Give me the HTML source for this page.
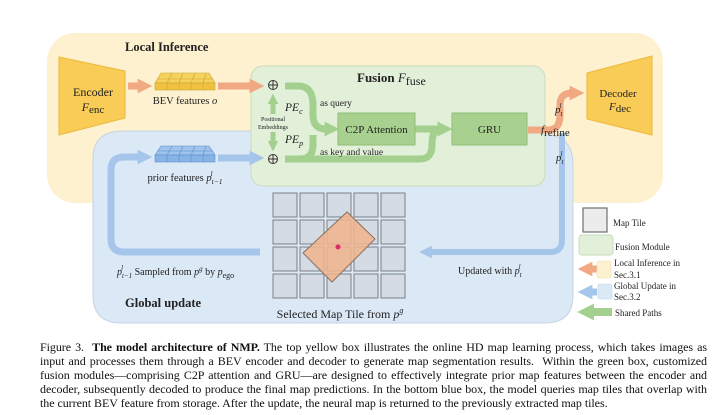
<!DOCTYPE html>
<html><head><meta charset="utf-8">
<style>
body{margin:0;background:#fff;width:720px;height:415px;overflow:hidden;position:relative;font-family:"Liberation Serif",serif;}
svg{position:absolute;left:0;top:0}
svg text{font-family:"Liberation Serif",serif;fill:#222}
.cap{position:absolute;left:40px;top:340px;width:667px;font-size:12px;line-height:14px;color:#111;text-align:justify;letter-spacing:-0.05px;}
</style></head><body>
<svg width="720" height="340" viewBox="0 0 720 340">
<defs>
<marker id="ao" viewBox="0 0 2 2" markerWidth="2.1" markerHeight="2.1" refX="0.6" refY="1" orient="auto" markerUnits="strokeWidth"><path d="M0,0 L2,1 L0,2 Z" fill="#f0a982"/></marker>
<marker id="ab" viewBox="0 0 2 2" markerWidth="2.1" markerHeight="2.1" refX="0.6" refY="1" orient="auto" markerUnits="strokeWidth"><path d="M0,0 L2,1 L0,2 Z" fill="#a5c6ea"/></marker>
<marker id="ag" viewBox="0 0 2 2" markerWidth="2.1" markerHeight="2.1" refX="0.6" refY="1" orient="auto" markerUnits="strokeWidth"><path d="M0,0 L2,1 L0,2 Z" fill="#a3d08f"/></marker>
</defs>
<rect x="47" y="33" width="616" height="170" rx="28" fill="#fdf1cf"/>
<path d="M123,131 H545 V323 H121 Q93,323 93,295 V159 Q93,131 123,131 Z" fill="#dbe8f6" stroke="#c5d3e2" stroke-width="1"/>
<path d="M545,135 Q573,135 573,165 V295 Q573,323 545,323 H300 V135 Z" fill="#dbe8f6" stroke="#c5d3e2" stroke-width="1"/>
<rect x="120" y="132" width="430" height="190" fill="#dbe8f6"/>
<rect x="251" y="66" width="294" height="120" rx="12" fill="#e2efd9" stroke="#c9dcbd" stroke-width="1"/>
<polygon points="59,57 125,71 125,118 59,135" fill="#f8cc57" stroke="#edb93a" stroke-width="1"/>
<text x="93" y="96" font-size="12" text-anchor="middle">Encoder</text>
<text x="93" y="111" font-size="12" text-anchor="middle"><tspan font-style="italic">F</tspan><tspan font-size="11" dy="2">enc</tspan></text>
<polygon points="587,73 652,56 652,135 587,119" fill="#f8cc57" stroke="#edb93a" stroke-width="1"/>
<text x="618" y="97" font-size="11" text-anchor="middle">Decoder</text>
<text x="620" y="110" font-size="11" text-anchor="middle"><tspan font-style="italic">F</tspan><tspan font-size="11" dy="2">dec</tspan></text>
<g>
<polygon points="155,83 161,73 209,73 215,83" fill="#f6d15c" stroke="#c9a437" stroke-width="0.6"/>
<rect x="155" y="83" width="60" height="7" fill="#f1c240" stroke="#c9a437" stroke-width="0.6"/>
<path d="M167,83 L172,73 M179,83 L183,73 M191,83 L195,73 M203,83 L206,73 M157,79 H213 M167,83V90 M179,83V90 M191,83V90 M203,83V90" stroke="#c9a437" stroke-width="0.6"/>
</g>
<text x="185" y="104" font-size="10.5" text-anchor="middle">BEV features <tspan font-style="italic">o</tspan></text>
<g>
<polygon points="155,155 161,146 209,146 215,155" fill="#9ec3ec" stroke="#5e8fc6" stroke-width="0.6"/>
<rect x="155" y="155" width="60" height="7" fill="#87b3e6" stroke="#5e8fc6" stroke-width="0.6"/>
<path d="M167,155 L172,146 M179,155 L183,146 M191,155 L195,146 M203,155 L206,146 M157,151 H213 M167,155V162 M179,155V162 M191,155V162 M203,155V162" stroke="#5e8fc6" stroke-width="0.6"/>
</g>
<text x="185" y="181" font-size="10.5" text-anchor="middle">prior features <tspan font-style="italic">p</tspan><tspan font-size="7.5" font-style="italic" dy="3">t−1</tspan><tspan font-size="7.5" font-style="italic" dx="-12" dy="-8">l</tspan></text>
<line x1="128" y1="86" x2="142" y2="86" stroke="#f0a982" stroke-width="7" marker-end="url(#ao)"/>
<line x1="218" y1="86" x2="254" y2="86" stroke="#f0a982" stroke-width="7" marker-end="url(#ao)"/>
<path d="M528,130 H548 Q560,130 560,115 V105 Q560,93 572,93 H574" fill="none" stroke="#f0a982" stroke-width="7" marker-end="url(#ao)"/>
<line x1="218" y1="158" x2="254" y2="158" stroke="#a5c6ea" stroke-width="7" marker-end="url(#ab)"/>
<path d="M562,133 V240 Q562,252 550,252 H428" fill="none" stroke="#a5c6ea" stroke-width="6" marker-end="url(#ab)"/>
<path d="M260,252 H124 Q111,252 111,239 V170 Q111,157 124,157 H142" fill="none" stroke="#a5c6ea" stroke-width="7" marker-end="url(#ab)"/>
<g stroke="#333" stroke-width="1" fill="none">
<circle cx="273" cy="85" r="4.5"/><path d="M268.5,85H277.5M273,80.5V89.5"/>
<circle cx="273" cy="159" r="4.5"/><path d="M268.5,159H277.5M273,154.5V163.5"/>
</g>
<line x1="273" y1="114" x2="273" y2="101" stroke="#a3d08f" stroke-width="5" marker-end="url(#ag)"/>
<line x1="273" y1="132" x2="273" y2="144" stroke="#a3d08f" stroke-width="5" marker-end="url(#ag)"/>
<path d="M285,86 H298 Q313,86 313,105 V115 Q313,129 326,129 H329" fill="none" stroke="#a3d08f" stroke-width="7" marker-end="url(#ag)"/>
<path d="M285,159 H420 Q432,159 432,145 Q432,129 440,129 H442" fill="none" stroke="#a3d08f" stroke-width="7" marker-end="url(#ag)"/>
<path d="M300,159 Q313,159 313,145 V135" fill="none" stroke="#a3d08f" stroke-width="7"/>
<line x1="415" y1="129" x2="442" y2="129" stroke="#a3d08f" stroke-width="7" marker-end="url(#ag)"/>
<text x="273" y="121" font-size="6" text-anchor="middle">Positional</text>
<text x="273" y="129" font-size="6" text-anchor="middle">Embeddings</text>
<text x="285" y="111" font-size="11.5" font-style="italic">PE<tspan font-size="8" dy="3">c</tspan></text>
<text x="285" y="143" font-size="11.5" font-style="italic">PE<tspan font-size="8" dy="3">p</tspan></text>
<text x="320" y="106" font-size="9.5">as query</text>
<text x="320" y="155" font-size="9.5">as key and value</text>
<text x="357" y="82" font-size="13" font-weight="bold">Fusion <tspan font-style="italic" font-weight="normal">F</tspan><tspan font-weight="normal" font-size="12" dy="3">fuse</tspan></text>
<rect x="338" y="113" width="77" height="32" fill="#a8d18f" stroke="#8fbf77" stroke-width="1"/>
<text x="376.5" y="133" font-size="11" text-anchor="middle">C2P Attention</text>
<rect x="452" y="113" width="75" height="32" fill="#a8d18f" stroke="#8fbf77" stroke-width="1"/>
<text x="489.5" y="133" font-size="11" text-anchor="middle">GRU</text>
<text x="555" y="113" font-size="11" font-style="italic">p<tspan font-size="7" dy="3">t</tspan><tspan font-size="7" dx="-3" dy="-8">l</tspan></text>
<text x="541" y="133" font-size="11" font-style="italic">f<tspan font-style="normal" font-size="11" dy="3">refine</tspan></text>
<text x="556" y="161" font-size="11" font-style="italic">p<tspan font-size="7" dy="3">t</tspan><tspan font-size="7" dx="-3" dy="-8">l</tspan></text>
<text x="125" y="51" font-size="12.5" font-weight="bold">Local Inference</text>
<text x="125" y="307" font-size="12.5" font-weight="bold">Global update</text>
<g fill="#d5dbe4" stroke="#7c7f84" stroke-width="1">
<rect x="273" y="193" width="24" height="24"/><rect x="300" y="193" width="24" height="24"/><rect x="327" y="193" width="24" height="24"/><rect x="354" y="193" width="24" height="24"/><rect x="381" y="193" width="24" height="24"/>
<rect x="273" y="220" width="24" height="24"/><rect x="300" y="220" width="24" height="24"/><rect x="327" y="220" width="24" height="24"/><rect x="354" y="220" width="24" height="24"/><rect x="381" y="220" width="24" height="24"/>
<rect x="273" y="247" width="24" height="24"/><rect x="300" y="247" width="24" height="24"/><rect x="327" y="247" width="24" height="24"/><rect x="354" y="247" width="24" height="24"/><rect x="381" y="247" width="24" height="24"/>
<rect x="273" y="274" width="24" height="24"/><rect x="300" y="274" width="24" height="24"/><rect x="327" y="274" width="24" height="24"/><rect x="354" y="274" width="24" height="24"/><rect x="381" y="274" width="24" height="24"/>
</g>
<polygon points="303,253 347,212 375,239 332,282" fill="#f0b48c" fill-opacity="0.85" stroke="#8a7060" stroke-width="1"/>
<circle cx="338" cy="247" r="2.5" fill="#e0286a"/>
<text x="340" y="318" font-size="12" text-anchor="middle">Selected Map Tile from <tspan font-style="italic">p</tspan><tspan font-size="8" font-style="italic" dy="-5">g</tspan></text>
<text x="117" y="275" font-size="10"><tspan font-style="italic">p</tspan><tspan font-size="7" font-style="italic" dy="3">t−1</tspan><tspan font-size="7" font-style="italic" dx="-11" dy="-8">l</tspan><tspan dx="9" dy="5"> Sampled from </tspan><tspan font-style="italic">p</tspan><tspan font-size="7" font-style="italic" dy="-4">g</tspan><tspan dy="4"> by </tspan><tspan font-style="italic">p</tspan><tspan font-size="8" dy="3">ego</tspan></text>
<text x="458" y="274" font-size="10">Updated with <tspan font-style="italic">p</tspan><tspan font-size="7" font-style="italic" dy="3">t</tspan><tspan font-size="7" font-style="italic" dx="-3" dy="-8">l</tspan></text>
<rect x="583" y="208" width="24" height="24" fill="#ececec" stroke="#6f6f6f" stroke-width="1.2"/>
<text x="613" y="226" font-size="9">Map Tile</text>
<rect x="579" y="235" width="34" height="20" rx="3" fill="#e2efd9" stroke="#c9dcbd"/>
<text x="615" y="250" font-size="9">Fusion Module</text>
<line x1="597" y1="269" x2="588" y2="269" stroke="#f0a982" stroke-width="7" marker-end="url(#ao)"/>
<rect x="597" y="261" width="14" height="17" rx="2" fill="#fdf1cf" stroke="#eee0b0" stroke-width="0.6"/>
<text x="614" y="266" font-size="9">Local Inference in</text>
<text x="614" y="278" font-size="9">Sec.3.1</text>
<line x1="597" y1="292" x2="588" y2="292" stroke="#a5c6ea" stroke-width="7" marker-end="url(#ab)"/>
<rect x="598" y="284" width="14" height="15" rx="2" fill="#dbe8f6" stroke="#c5d3e2" stroke-width="0.6"/>
<text x="614" y="289" font-size="9">Global Update in</text>
<text x="614" y="300" font-size="9">Sec.3.2</text>
<line x1="612" y1="312" x2="589" y2="312" stroke="#a3d08f" stroke-width="8" marker-end="url(#ag)"/>
<text x="615" y="316" font-size="9">Shared Paths</text>
</svg>
<div class="cap">Figure 3.&nbsp; <b>The model architecture of NMP.</b> The top yellow box illustrates the online HD map learning process, which takes images as input and processes them through a BEV encoder and decoder to generate map segmentation results. &nbsp;Within the green box, customized fusion modules—comprising C2P attention and GRU—are designed to effectively integrate prior map features between the encoder and decoder, subsequently decoded to produce the final map predictions. In the bottom blue box, the model queries map tiles that overlap with the current BEV feature from storage. After the update, the neural map is returned to the previously extracted map tiles.</div>
</body></html>
